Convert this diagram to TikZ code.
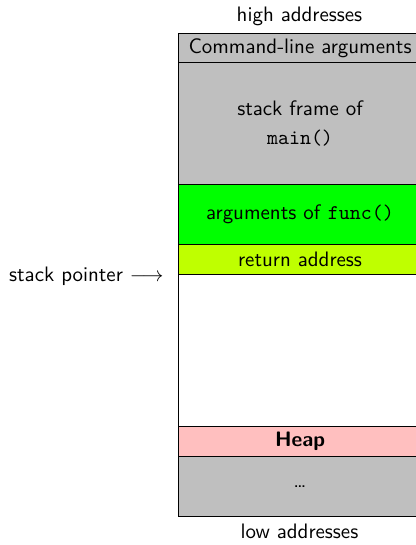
\documentclass[tikz,border=0pt]{standalone}
\renewcommand\familydefault{\sfdefault}
\newcommand\pxu{0.478pt}
\tikzset{
  x=0.478pt, y=-0.478pt,
  cell/.style={draw=black, line width=0.5pt, rectangle, anchor=north west,
    minimum width=243*\pxu, inner sep=0pt, align=center},
  caption/.style={inner sep=0pt},
}
\begin{document}
\begin{tikzpicture}
  \useasboundingbox (0,0) rectangle (416,545);
  \clip (0,0) rectangle (416,545);

  % memory column, from high to low addresses
  \node[cell, fill=lightgray, minimum height=29*\pxu]  (cmd)  at (178,33)  {Command-line arguments};
  \node[cell, fill=lightgray, minimum height=122*\pxu] (main) at (178,62)  {stack frame of\\[2pt]\texttt{main()}};
  \node[cell, fill=green,     minimum height=60*\pxu]  (args) at (178,184) {arguments of \texttt{func()}};
  \node[cell, fill=lime,      minimum height=30*\pxu]  (ret)  at (178,244) {return address};
  \node[cell, fill=white,     minimum height=152*\pxu] (free) at (178,274) {};
  \node[cell, fill=red!25,    minimum height=30*\pxu]  (heap) at (178,426) {\bfseries Heap};
  \node[cell, fill=lightgray, minimum height=60*\pxu]  (rest) at (178,456) {\dots};

  % labels
  \node[caption] (hi) at (299.5,16)  {high addresses};
  \node[caption] (lo) at (299.5,531) {low addresses};
  \node[anchor=east] (sp) at (171,276) {stack pointer $\longrightarrow$};
\end{tikzpicture}
\end{document}
